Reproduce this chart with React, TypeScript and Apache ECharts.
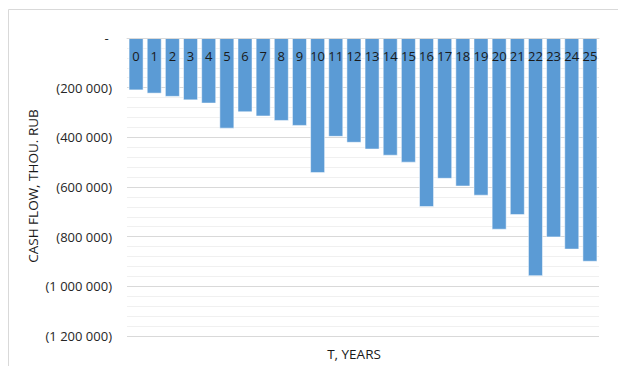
import React, { useEffect, useRef } from "react";
import * as echarts from "echarts";

// Years of the project horizon
const years: string[] = [
  "0", "1", "2", "3", "4", "5", "6", "7", "8", "9", "10", "11", "12",
  "13", "14", "15", "16", "17", "18", "19", "20", "21", "22", "23", "24", "25",
];

// Annual cash flow, thousand roubles
const cashFlow: number[] = [
  -210000, -223000, -236000, -250000, -263000, -364000, -298000, -315000,
  -333000, -353000, -543000, -397000, -421000, -448000, -473000, -501000,
  -680000, -566000, -597000, -634000, -771000, -712000, -958000, -802000,
  -851000, -900000,
];

const yMin = -1200000;
const yMax = 0;
const yStep = 200000;

const yAxisTitle = "CASH FLOW, THOU. RUB";
const xAxisTitle = "T, YEARS";

const FONT = "'Open Sans', 'Liberation Sans', sans-serif";

function fmtAccounting(v: number): string {
  if (v === 0) return "- ";
  const s = Math.abs(v)
    .toString()
    .replace(/\B(?=(\d{3})+(?!\d))/g, " ");
  return v < 0 ? `(${s})` : s;
}

export default function App() {
  const ref = useRef<HTMLDivElement>(null);

  useEffect(() => {
    if (!ref.current) return;
    const chart = echarts.init(ref.current, undefined, { renderer: "svg" });
    chart.setOption({
      animation: false,
      backgroundColor: "#ffffff",
      grid: { left: 127, right: 19, top: 38, bottom: 30 },
      xAxis: {
        type: "category",
        data: years,
        position: "top",
        z: 10,
        axisLine: { show: true, lineStyle: { color: "#d9d9d9", width: 1 } },
        axisTick: { show: false },
        axisLabel: {
          inside: true,
          margin: 11,
          color: "#1a1a1a",
          fontSize: 13,
          fontFamily: FONT,
          interval: 0,
        },
      },
      yAxis: {
        type: "value",
        min: yMin,
        max: yMax,
        interval: yStep,
        axisLine: { show: false },
        axisTick: { show: false },
        axisLabel: {
          formatter: (v: number) => fmtAccounting(v),
          color: "#262626",
          fontSize: 13,
          fontFamily: FONT,
          margin: 15,
        },
        splitLine: { show: true, lineStyle: { color: "#d9d9d9", width: 1 } },
        minorTick: { show: false, splitNumber: 5 },
        minorSplitLine: { show: true, lineStyle: { color: "#f0f0f0", width: 1 } },
      },
      series: [
        {
          type: "bar",
          data: cashFlow,
          barCategoryGap: "20%",
          itemStyle: { color: "#5b9bd5", borderColor: "#ffffff", borderWidth: 0.5 },
        },
      ],
      graphic: [
        {
          type: "rect",
          shape: { x: 8.5, y: 9.5, width: 700, height: 500 },
          style: { fill: "none", stroke: "#d9d9d9", lineWidth: 1 },
          silent: true,
          z: -1,
        },
        {
          type: "text",
          x: 33,
          y: 186,
          rotation: Math.PI / 2,
          style: {
            text: yAxisTitle,
            fill: "#1a1a1a",
            font: `13.5px ${FONT}`,
            align: "center",
            verticalAlign: "middle",
          },
        },
        {
          type: "text",
          x: 354,
          y: 354,
          style: {
            text: xAxisTitle,
            fill: "#1a1a1a",
            font: `13.5px ${FONT}`,
            align: "center",
            verticalAlign: "middle",
          },
        },
      ],
    });
    return () => chart.dispose();
  }, []);

  return (
    <div
      ref={ref}
      style={{ position: "fixed", left: 0, top: 0, width: 618, height: 366 }}
    />
  );
}
